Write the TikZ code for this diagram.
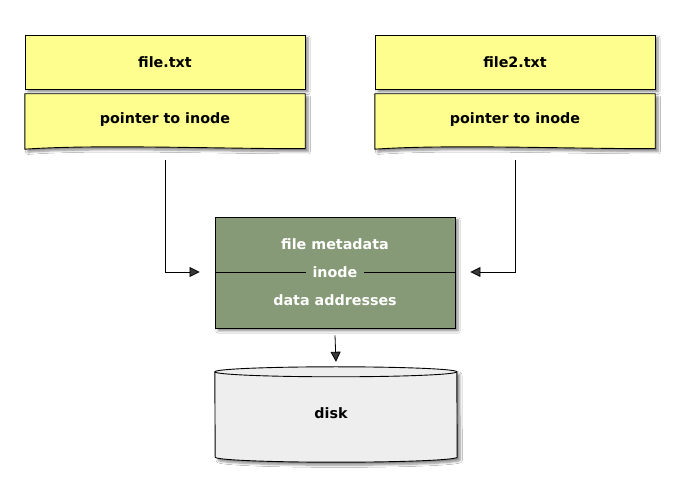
\documentclass[tikz,border=0pt]{standalone}
\usepackage{fontspec}
\setmainfont{DejaVu Sans}
\usetikzlibrary{arrows.meta,shadows.blur,calc}
\definecolor{noteyellow}{HTML}{FEFE8E}
\definecolor{inodegreen}{HTML}{879A77}
\definecolor{diskgray}{HTML}{EEEEEE}
\begin{document}
\begin{tikzpicture}[x=1pt,y=1pt,
  txt/.style={font=\fontsize{14.3}{16}\selectfont\bfseries},
  shadowed/.style={blur shadow={shadow xshift=3pt,shadow yshift=-3pt,shadow blur steps=6,shadow opacity=45}},
  namebox/.style={txt,draw=black,line width=0.9pt,fill=noteyellow,shadowed,minimum width=280pt,minimum height=54pt,inner sep=0pt},
  ptrbox/.style={txt,minimum width=280pt,minimum height=54pt,inner sep=0pt},
  docshape/.style={draw=black,line width=0.9pt,fill=noteyellow,shadowed},
  conn/.style={line width=0.8pt,-{Triangle[length=10pt,width=10pt]}}
]
\useasboundingbox[fill=white] (0,0) rectangle (680,490);

% file name boxes
\node[namebox] (name1) at (165,428) {file.txt};
\node[namebox] (name2) at (515,428) {file2.txt};

% pointer (document) boxes
\node[ptrbox] (ptr1) at (165,369) {};
\node[ptrbox] (ptr2) at (515,369) {};
\foreach \p in {ptr1,ptr2}{
  \draw[docshape] (\p.north west) -- (\p.north east) -- ([yshift=-0.5pt]\p.south east)
    .. controls +(-90,0) and +(70,5) .. ([yshift=-1pt]\p.south west) -- cycle;
}
\node[txt] (ptrtext1) at ([yshift=1pt]ptr1.center) {pointer to inode};
\node[txt] (ptrtext2) at ([yshift=1pt]ptr2.center) {pointer to inode};

% inode box
\node[draw=black,line width=0.9pt,fill=inodegreen,shadowed,minimum width=240pt,minimum height=111pt,inner sep=0pt] (inode) at (335,217.5) {};
\node[txt,text=white] (meta) at (335,246) {file metadata};
\node[txt,text=white] (addr) at (335,190) {data addresses};
\draw[line width=0.9pt] ([yshift=0.5pt]inode.west) -- ([yshift=0.5pt]inode.east);
\node[txt,text=white,fill=inodegreen,inner xsep=7pt,inner ysep=1pt] (ilabel) at (335,218) {inode};

% disk cylinder
\node[minimum width=242pt,minimum height=95pt,inner sep=0pt] (disk) at (336,75.5) {};
\draw[line width=0.9pt,fill=diskgray,shadowed]
  ([yshift=-5pt]disk.north west) arc[start angle=180,end angle=0,x radius=121pt,y radius=5pt]
  -- ([yshift=5pt]disk.south east) arc[start angle=0,end angle=-180,x radius=121pt,y radius=5pt]
  -- cycle;
\draw[line width=0.9pt] ([yshift=-5pt]disk.north west) arc[start angle=180,end angle=360,x radius=121pt,y radius=5pt];
\node[txt] (disklabel) at (331,77) {disk};

% connectors
\draw[conn] ([yshift=-12pt]ptr1.south) |- ([xshift=-15pt,yshift=0.5pt]inode.west);
\draw[conn] ([yshift=-12pt]ptr2.south) |- ([xshift=15pt,yshift=0.5pt]inode.east);
\draw[conn] ([yshift=-7pt]inode.south) -- ([yshift=5pt]disk.north);
\end{tikzpicture}
\end{document}
